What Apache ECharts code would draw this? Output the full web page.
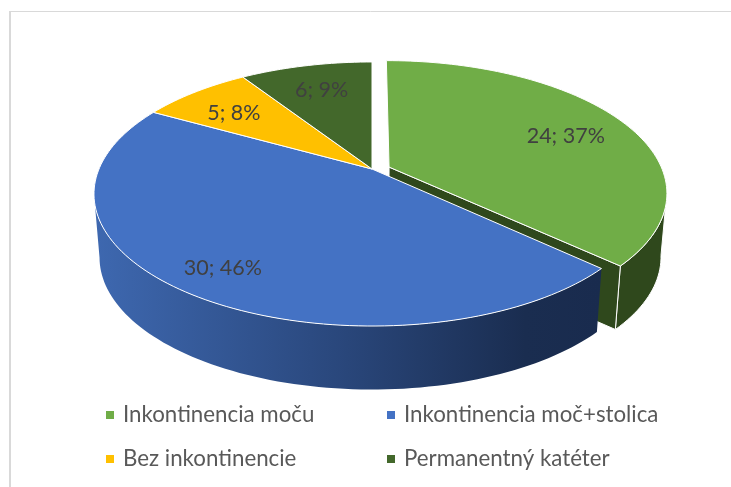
<!DOCTYPE html>
<html>
<head>
<meta charset="utf-8">
<style>
  html, body { margin: 0; padding: 0; background: #fff; }
  #chart { width: 731px; height: 487px; }
</style>
<script src="https://cdn.jsdelivr.net/npm/echarts@6/dist/echarts.min.js"></script>
</head>
<body>
<div id="chart"></div>
<script>
// data
var categories = ['Inkontinencia moču', 'Inkontinencia moč+stolica', 'Bez inkontinencie', 'Permanentný katéter'];
var values = [24, 30, 5, 6];
var colors = ['#70ad47', '#4472c4', '#ffc000', '#43682b'];

var total = values.reduce(function (a, b) { return a + b; }, 0);

// the disc as seen in perspective, apex of the pie and scale of the unit circle
var cx = 372, cy = 169, scaleX = 273, scaleY = 127.3, persp = 0.1893;
// second level of the disc, how far the bottom rim drops and shrinks
var depth = 63.5, shrink = 0.98;
// only the first slice is pulled out, offset in unit circle coords
var explode = [[0.0627, 0.015], [0, 0], [0, 0], [0, 0]];
// label spot per slice: radius on the disc, angle shift in degrees
var labelSpots = [[0.73, 3], [0.83, -1], [0.73, -2], [0.73, 0]];
// where the rim turns away from the viewer
var sideAngle = Math.acos(-persp) * 180 / Math.PI;

function project(u, v) {
  var w = 1 + persp * v;
  return [cx + scaleX * u / w, cy - scaleY * v / w];
}
function rimPoint(deg, off, r) {
  var t = deg * Math.PI / 180;
  return project(off[0] + r * Math.sin(t), off[1] + r * Math.cos(t));
}
function lower(p) {
  return [cx + (p[0] - cx) * shrink, p[1] + depth];
}
function rim(a0, a1, off) {
  var pts = [];
  var n = Math.max(2, Math.ceil((a1 - a0) / 1.5));
  for (var i = 0; i <= n; i++) {
    pts.push(rimPoint(a0 + (a1 - a0) * i / n, off, 1));
  }
  return pts;
}

var wallFills = [
  '#2f481c',
  new echarts.graphic.LinearGradient(0, 0, 1, 0, [
    { offset: 0, color: '#3e68b0' },
    { offset: 0.5, color: '#29467a' },
    { offset: 0.85, color: '#1a2d50' },
    { offset: 1, color: '#192b4e' }
  ])
];

function renderSlice(index, params, api) {
  var before = 0;
  for (var i = 0; i < index; i++) before += values[i];
  var value = api.value(0);
  var a0 = before / total * 360;
  var a1 = (before + value) / total * 360;
  var off = explode[index];
  var apex = project(off[0], off[1]);
  var children = [];

  // outer wall, only the part facing the viewer
  var w0 = Math.max(a0, sideAngle), w1 = Math.min(a1, 360 - sideAngle);
  if (w1 > w0) {
    var top = rim(w0, w1, off);
    var wall = top.concat(top.slice().reverse().map(lower));
    children.push({
      type: 'polygon',
      shape: { points: wall },
      style: { fill: wallFills[index], stroke: index === 0 ? '#fff' : null, lineWidth: 1 }
    });
  }
  // cut face of the pulled out slice
  if (index === 0) {
    var end = rimPoint(a1, off, 1);
    children.push({
      type: 'polygon',
      shape: { points: [apex, end, lower(end), lower(apex)] },
      style: { fill: '#2f481c', stroke: '#fff', lineWidth: 1 }
    });
  }
  // top face
  children.push({
    type: 'polygon',
    shape: { points: [apex].concat(rim(a0, a1, off)) },
    style: { fill: colors[index], stroke: '#fff', lineWidth: 1, lineJoin: 'round' }
  });
  // label
  var spot = labelSpots[index];
  var lp = rimPoint((a0 + a1) / 2 + spot[1], off, spot[0]);
  children.push({
    type: 'text',
    z2: 10,
    style: {
      text: value + '; ' + Math.round(value / total * 100) + '%',
      x: lp[0], y: lp[1],
      align: 'center', verticalAlign: 'middle',
      fill: '#404040',
      font: '21.5px Lato'
    }
  });
  return { type: 'group', children: children };
}

var legendSpots = [[106, 404], [387, 404], [106, 448], [387, 448]];

var myChart = echarts.init(document.getElementById('chart'));
var option = {
  animation: false,
  backgroundColor: '#fff',
  legend: categories.map(function (name, i) {
    return {
      data: [name],
      left: legendSpots[i][0],
      top: legendSpots[i][1],
      padding: 0,
      icon: 'rect',
      itemWidth: 8,
      itemHeight: 8,
      selectedMode: false,
      textStyle: { color: '#595959', fontFamily: 'Lato', fontSize: 22.3, padding: [0, 0, 0, 4] }
    };
  }),
  graphic: [
    { type: 'line', shape: { x1: 10, y1: 11.5, x2: 731, y2: 11.5 }, style: { stroke: '#d9d9d9', lineWidth: 1 } },
    { type: 'line', shape: { x1: 10, y1: 11, x2: 10, y2: 487 }, style: { stroke: '#d9d9d9', lineWidth: 2 } }
  ],
  series: categories.map(function (name, i) {
    return {
      name: name,
      type: 'custom',
      coordinateSystem: 'none',
      itemStyle: { color: colors[i] },
      data: [[values[i]]],
      renderItem: function (params, api) { return renderSlice(i, params, api); }
    };
  })
};
myChart.setOption(option);
window.addEventListener('resize', function () { myChart.resize(); });
</script>
</body>
</html>
